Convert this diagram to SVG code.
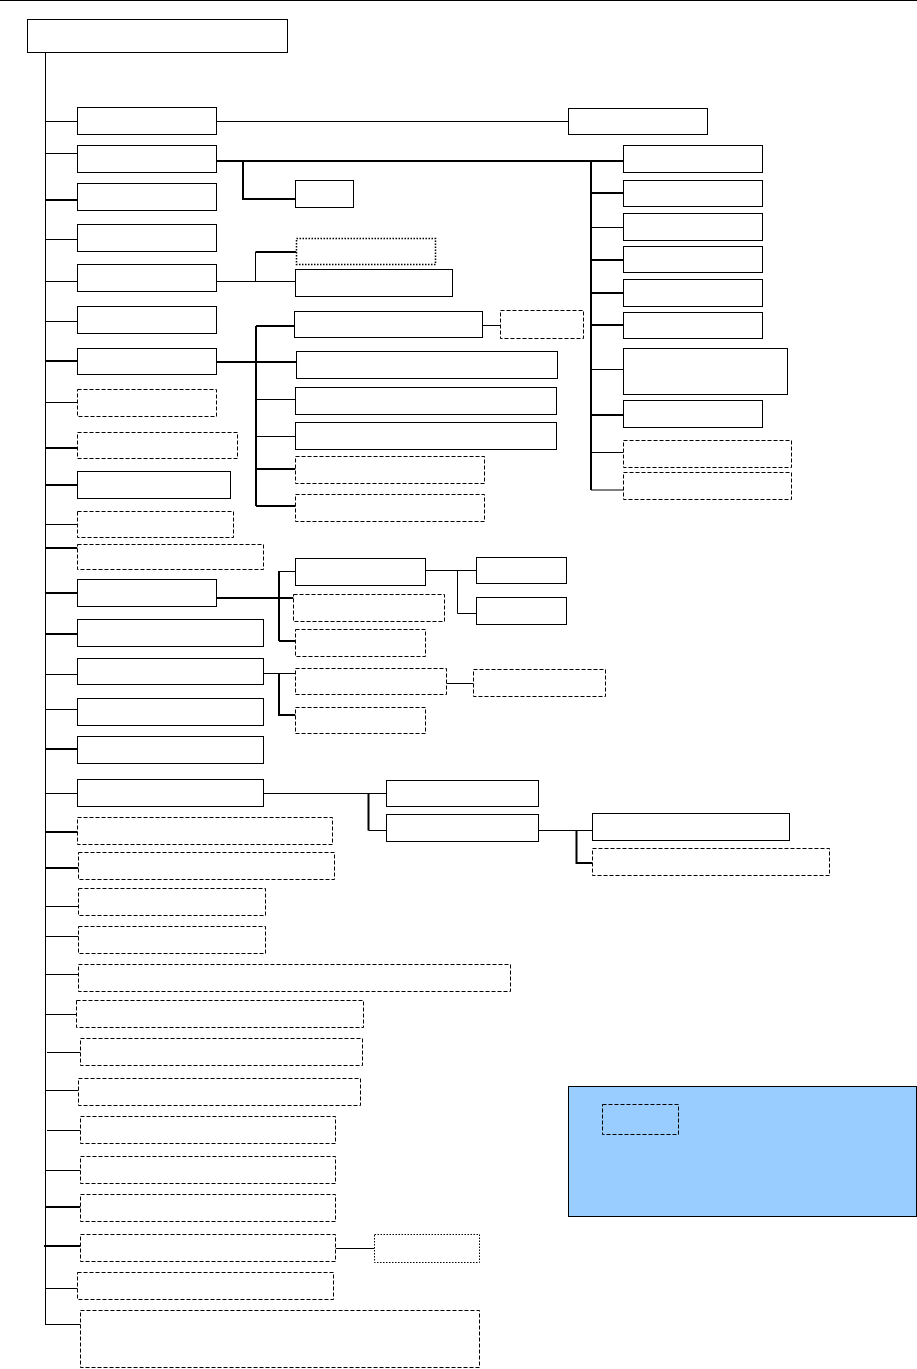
<svg xmlns="http://www.w3.org/2000/svg" width="917" height="1369" viewBox="0 0 917 1369">
<style>
.bg{fill:#ffffff}
.box{fill:#ffffff;stroke:#000000;stroke-width:1}
.dash{stroke-dasharray:4 2}
.dot{stroke-dasharray:1.5 1.5}
.legend{fill:#99CCFF;stroke:#000000;stroke-width:1}
.ln{fill:none;stroke:#000000;stroke-width:1}
.th{stroke-width:2}
</style>
<rect class="bg" x="0" y="0" width="917" height="1369"/>
<g id="connectors">
<path class="ln" d="M0 0.5 H917"/>
<path class="ln" d="M45.5 52 V1325"/>
<path class="ln" d="M45.5 121.5 H77.5 M45.5 153.5 H77.5 M45.5 239.5 H77.5 M45.5 281.5 H77.5 M45.5 321.5 H77.5 M45.5 402.5 H77.5 M45.5 524.5 H77.5 M45.5 674.5 H77.5 M45.5 709.5 H77.5 M45.5 793.5 H77.5 M45.5 906.5 H78.5 M45.5 936.5 H78.5 M45.5 974.5 H78.5 M45.5 1014.5 H76.5 M47 1052.5 H80.5 M45.5 1090.5 H78.5 M47 1130.5 H80.5 M45.5 1170.5 H80.5 M45.5 1288.5 H77.5 M45.5 1324.5 H80.5"/>
<path class="ln th" d="M45.5 200 H77.5 M45.5 361 H77.5 M45.5 448 H77.5 M45.5 485 H77.5 M45.5 548 H77.5 M45.5 593 H77.5 M45.5 634 H77.5 M45.5 749 H77.5 M45.5 832 H77.5 M45.5 868 H78.5 M45.5 1207 H80.5 M44 1246 H80.5"/>
<path class="ln" d="M216.5 121.5 H568.5"/>
<path class="ln th" d="M216.5 161 H623.5 M243 161 V199 H295.5"/>
<path class="ln th" d="M591 161 V490 M591 193 H623.5 M591 260 H623.5 M591 293 H623.5 M591 325 H623.5 M591 415 H623.5"/>
<path class="ln" d="M591 227.5 H623.5 M591 369.5 H623.5 M591 452.5 H623.5 M591 490 H623.5"/>
<path class="ln" d="M216.5 281.5 H295.5 M255.5 252 V281.5"/>
<path class="ln th" d="M255.5 252 H296.5"/>
<path class="ln th" d="M216.5 362 H296.5 M256 326 V506 M256 326 H294.5 M256 469 H295.5 M256 506 H295.5"/>
<path class="ln" d="M256 399.5 H295.5 M256 436.5 H295.5 M482.5 325.5 H500.5"/>
<path class="ln th" d="M216.5 598 H293.5 M279 571 V641 M279 641 H295.5"/>
<path class="ln" d="M279 571.5 H295.5 M425.5 570.5 H476.5 M457.5 570.5 V613.5 H476.5"/>
<path class="ln" d="M263.5 673.5 H295.5 M446.5 683.5 H473.5"/>
<path class="ln th" d="M279 673.5 V715 H295.5"/>
<path class="ln" d="M263.5 793.5 H386.5 M368.5 830.5 H386.5 M538.5 830.5 H592.5"/>
<path class="ln th" d="M368.5 793.5 V830.5 M576.5 830.5 V863 H592.5"/>
<path class="ln" d="M335.5 1248.5 H374.5"/>
</g>
<g id="root"><rect class="box" x="27.5" y="19.5" width="260" height="33"/></g>
<g id="n1"><rect class="box" x="77.5" y="107.5" width="139" height="27"/></g>
<g id="n2"><rect class="box" x="77.5" y="145.5" width="139" height="27"/></g>
<g id="n3"><rect class="box" x="77.5" y="183.5" width="139" height="27"/></g>
<g id="n4"><rect class="box" x="77.5" y="224.5" width="139" height="27"/></g>
<g id="n5"><rect class="box" x="77.5" y="264.5" width="139" height="27"/></g>
<g id="n6"><rect class="box" x="77.5" y="306.5" width="139" height="27"/></g>
<g id="n7"><rect class="box" x="77.5" y="348.5" width="139" height="26"/></g>
<g id="n8"><rect class="box dash" x="77.5" y="389.5" width="139" height="27"/></g>
<g id="n9"><rect class="box dash" x="77.5" y="432.5" width="160" height="26"/></g>
<g id="n10"><rect class="box" x="77.5" y="471.5" width="153" height="27"/></g>
<g id="n11"><rect class="box dash" x="77.5" y="511.5" width="156" height="26"/></g>
<g id="n12"><rect class="box dash" x="77.5" y="544.5" width="186" height="25"/></g>
<g id="n13"><rect class="box" x="77.5" y="579.5" width="139" height="27"/></g>
<g id="n14"><rect class="box" x="77.5" y="619.5" width="186" height="27"/></g>
<g id="n15"><rect class="box" x="77.5" y="658.5" width="186" height="26"/></g>
<g id="n16"><rect class="box" x="77.5" y="698.5" width="186" height="27"/></g>
<g id="n17"><rect class="box" x="77.5" y="736.5" width="186" height="27"/></g>
<g id="n18"><rect class="box" x="77.5" y="779.5" width="186" height="27"/></g>
<g id="n19"><rect class="box dash" x="77.5" y="817.5" width="255" height="27"/></g>
<g id="n20"><rect class="box dash" x="78.5" y="852.5" width="256" height="27"/></g>
<g id="n21"><rect class="box dash" x="78.5" y="888.5" width="187" height="27"/></g>
<g id="n22"><rect class="box dash" x="78.5" y="926.5" width="187" height="27"/></g>
<g id="n23"><rect class="box dash" x="78.5" y="964.5" width="432" height="27"/></g>
<g id="n24"><rect class="box dash" x="76.5" y="1000.5" width="287" height="27"/></g>
<g id="n25"><rect class="box dash" x="80.5" y="1038.5" width="282" height="27"/></g>
<g id="n26"><rect class="box dash" x="78.5" y="1078.5" width="282" height="27"/></g>
<g id="n27"><rect class="box dash" x="80.5" y="1116.5" width="255" height="27"/></g>
<g id="n28"><rect class="box dash" x="80.5" y="1156.5" width="255" height="27"/></g>
<g id="n29"><rect class="box dash" x="80.5" y="1194.5" width="255" height="27"/></g>
<g id="n30"><rect class="box dash" x="80.5" y="1234.5" width="255" height="27"/></g>
<g id="n31"><rect class="box dash" x="77.5" y="1272.5" width="256" height="27"/></g>
<g id="n32"><rect class="box dash" x="80.5" y="1310.5" width="399" height="57"/></g>
<g id="n1a"><rect class="box" x="568.5" y="108.5" width="139" height="26"/></g>
<g id="n2a"><rect class="box" x="295.5" y="180.5" width="58" height="27"/></g>
<g id="r1"><rect class="box" x="623.5" y="145.5" width="139" height="27"/></g>
<g id="r2"><rect class="box" x="623.5" y="180.5" width="139" height="26"/></g>
<g id="r3"><rect class="box" x="623.5" y="213.5" width="139" height="27"/></g>
<g id="r4"><rect class="box" x="623.5" y="246.5" width="139" height="26"/></g>
<g id="r5"><rect class="box" x="623.5" y="279.5" width="139" height="27"/></g>
<g id="r6"><rect class="box" x="623.5" y="312.5" width="139" height="26"/></g>
<g id="r7"><rect class="box" x="623.5" y="348.5" width="164" height="46"/></g>
<g id="r8"><rect class="box" x="623.5" y="400.5" width="139" height="27"/></g>
<g id="r9"><rect class="box dash" x="623.5" y="440.5" width="168" height="27"/></g>
<g id="r10"><rect class="box dash" x="623.5" y="472.5" width="168" height="27"/></g>
<g id="n5a"><rect class="box dot" x="296.5" y="238.5" width="139" height="26" style="stroke-width:1.5"/></g>
<g id="n5b"><rect class="box" x="295.5" y="269.5" width="157" height="27"/></g>
<g id="n7a"><rect class="box" x="294.5" y="311.5" width="188" height="26"/></g>
<g id="n7a1"><rect class="box dash" x="500.5" y="310.5" width="83" height="28"/></g>
<g id="n7b"><rect class="box" x="296.5" y="351.5" width="261" height="27"/></g>
<g id="n7c"><rect class="box" x="295.5" y="387.5" width="261" height="27"/></g>
<g id="n7d"><rect class="box" x="295.5" y="422.5" width="261" height="27"/></g>
<g id="n7e"><rect class="box dash" x="295.5" y="456.5" width="189" height="27"/></g>
<g id="n7f"><rect class="box dash" x="295.5" y="494.5" width="189" height="27"/></g>
<g id="n13a"><rect class="box" x="295.5" y="558.5" width="130" height="27"/></g>
<g id="n13b"><rect class="box dash" x="293.5" y="594.5" width="151" height="27"/></g>
<g id="n13c"><rect class="box dash" x="295.5" y="629.5" width="130" height="27"/></g>
<g id="n13a1"><rect class="box" x="476.5" y="557.5" width="90" height="26"/></g>
<g id="n13a2"><rect class="box" x="476.5" y="597.5" width="90" height="27"/></g>
<g id="n15a"><rect class="box dash" x="295.5" y="668.5" width="151" height="26"/></g>
<g id="n15a1"><rect class="box dash" x="473.5" y="669.5" width="132" height="27"/></g>
<g id="n15b"><rect class="box dash" x="295.5" y="707.5" width="130" height="26"/></g>
<g id="n18a"><rect class="box" x="386.5" y="780.5" width="152" height="26"/></g>
<g id="n18b"><rect class="box" x="386.5" y="814.5" width="152" height="27"/></g>
<g id="n18b1"><rect class="box" x="592.5" y="813.5" width="197" height="27"/></g>
<g id="n18b2"><rect class="box dash" x="592.5" y="848.5" width="237" height="27"/></g>
<g id="n30a"><rect class="box dot" x="374.5" y="1234.5" width="105" height="28"/></g>
<g id="legend">
<rect class="legend" x="568.5" y="1086.5" width="348" height="130"/>
<rect class="legend dash" x="602.5" y="1104.5" width="76" height="30"/>
</g>
</svg>
